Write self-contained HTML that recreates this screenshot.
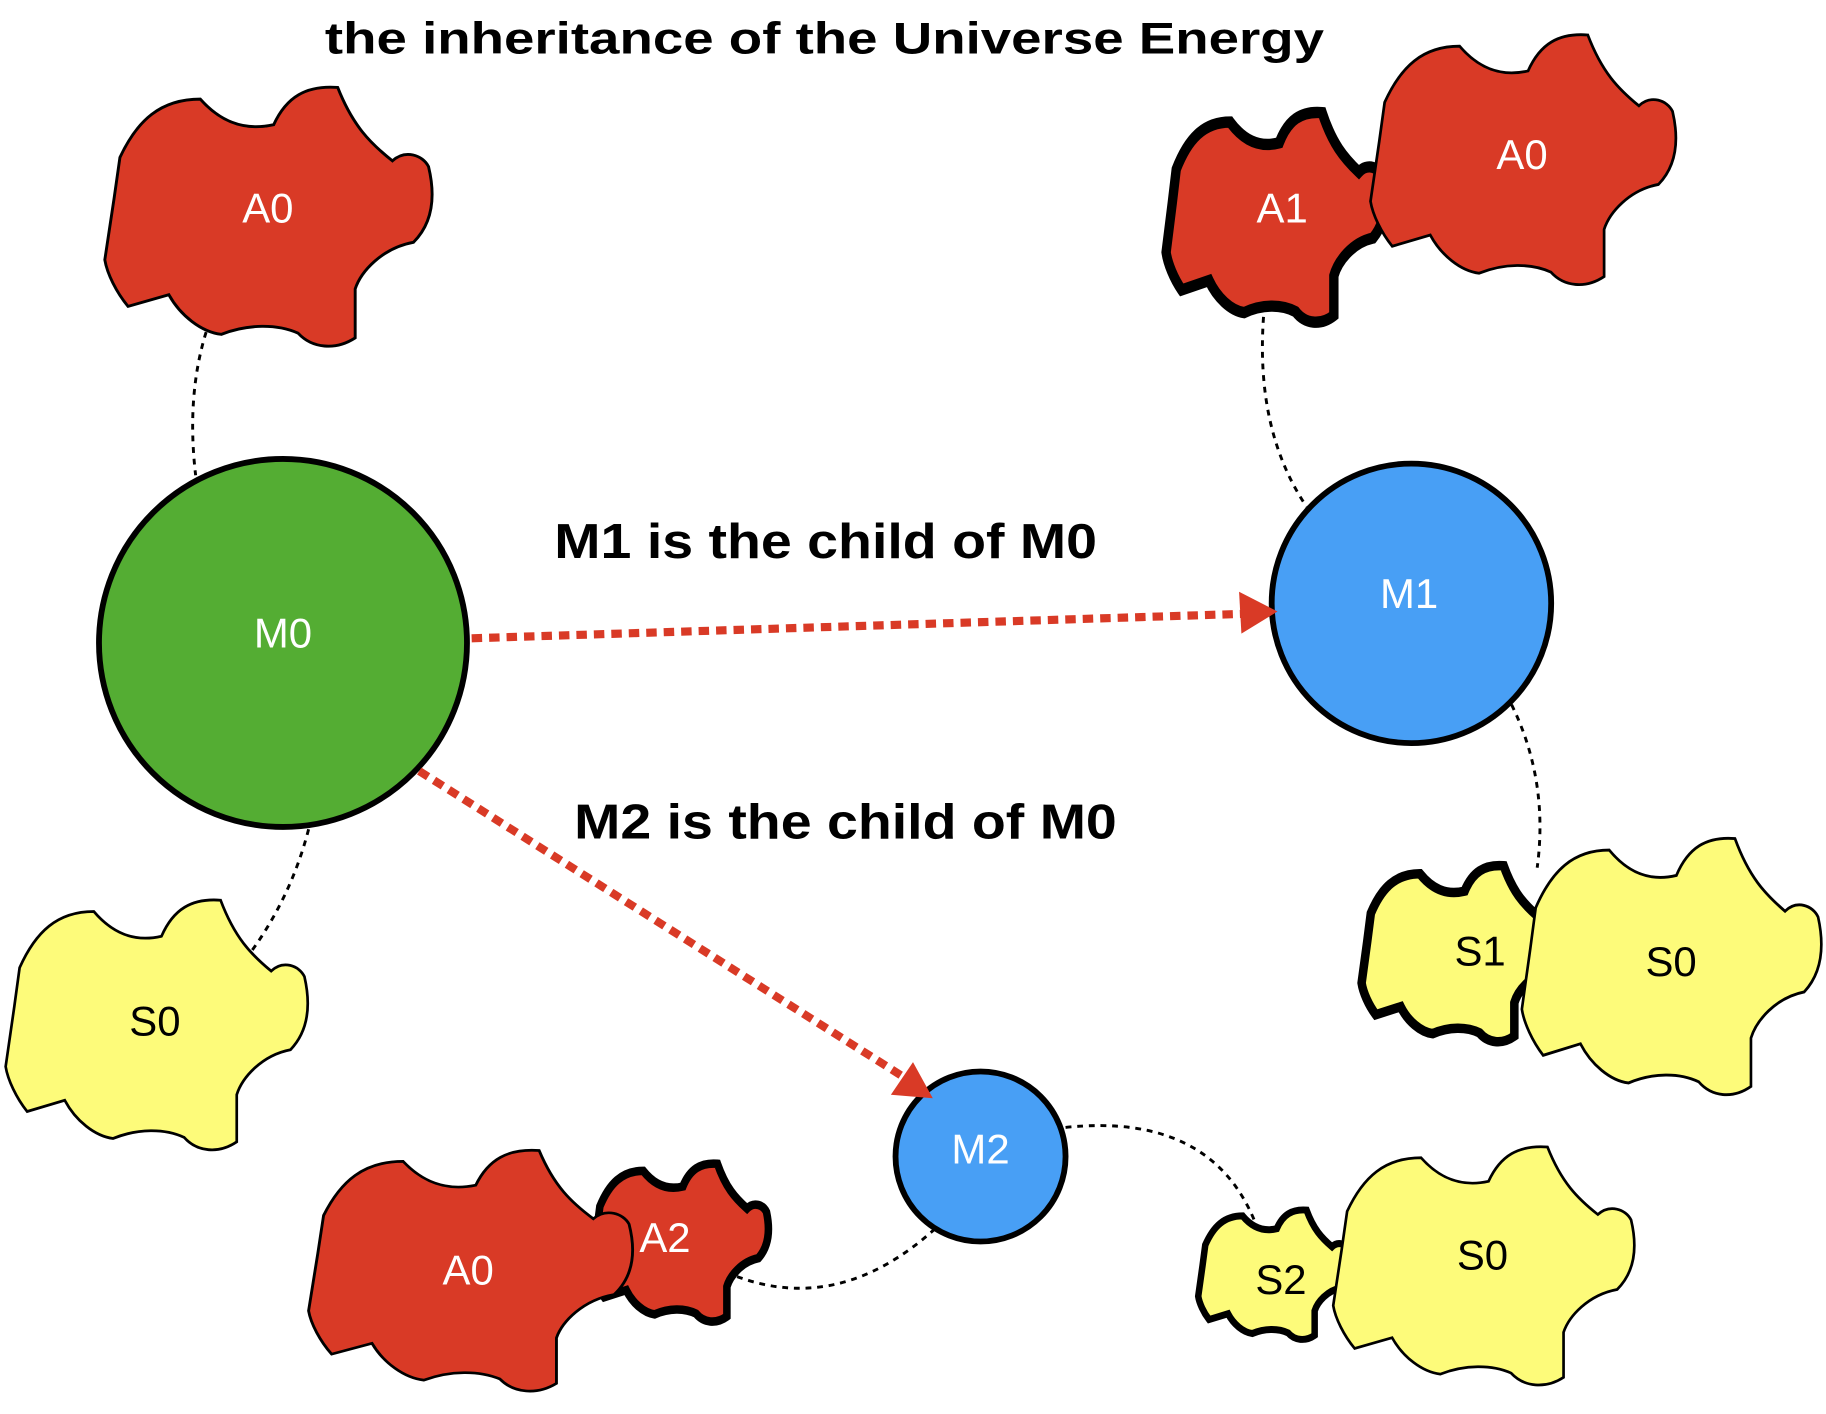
<!DOCTYPE html>
<html><head><meta charset="utf-8"><style>html,body{margin:0;padding:0;background:#fff}svg{display:block}</style></head>
<body>
<svg width="1826" height="1414" viewBox="0 0 1568 1214" xmlns="http://www.w3.org/2000/svg" font-family="Liberation Sans, sans-serif">
<defs>
<path id="b" d="M15,62 C30,30 50,12 84,12 C100,30 120,40 147,34 C158,10 175,0 202,2 C215,35 230,50 249,65 C260,55 275,60 280,70 C286,95 284,118 267,135 C240,140 222,160 217,175 L217,217 C200,228 180,226 168,213 C150,205 125,205 102,214 C85,212 67,198 57,180 L22,190 C12,178 4,162 2,150 L10,97 Z"/>
</defs>
<g fill="none" stroke="#000" stroke-width="2.5" stroke-dasharray="5 5">
<path d="M177,285 Q160,340 168,408"/>
<path d="M265,712 Q250,770 215,818"/>
<path d="M1085,272 Q1078,370 1122,435"/>
<path d="M1298,605 Q1330,670 1320,745"/>
<path d="M915,968 Q1040,955 1078,1050"/>
<path d="M803,1055 Q720,1130 630,1095"/>
</g>
<g stroke="#000">
<use href="#b" transform="translate(88,73)" fill="#d93a26" stroke-width="2.5" vector-effect="non-scaling-stroke"/>
<use href="#b" transform="translate(3,771) scale(0.923,0.965)" fill="#fdfb7a" stroke-width="2.5" vector-effect="non-scaling-stroke"/>
<use href="#b" transform="translate(1000,95) scale(0.67,0.81)" fill="#d93a26" stroke-width="12" vector-effect="non-scaling-stroke"/>
<use href="#b" transform="translate(1175,28) scale(0.933,0.965)" fill="#d93a26" stroke-width="2.5" vector-effect="non-scaling-stroke"/>
<use href="#b" transform="translate(1168,742) scale(0.61,0.68)" fill="#fdfb7a" stroke-width="12" vector-effect="non-scaling-stroke"/>
<use href="#b" transform="translate(1305,718) scale(0.915,0.99)" fill="#fdfb7a" stroke-width="2.5" vector-effect="non-scaling-stroke"/>
<use href="#b" transform="translate(507,998) scale(0.54,0.61)" fill="#d93a26" stroke-width="12" vector-effect="non-scaling-stroke"/>
<use href="#b" transform="translate(263,986) scale(0.99,0.93)" fill="#d93a26" stroke-width="2.5" vector-effect="non-scaling-stroke"/>
<use href="#b" transform="translate(1028,1038) scale(0.465,0.5)" fill="#fdfb7a" stroke-width="12" vector-effect="non-scaling-stroke"/>
<use href="#b" transform="translate(1143,983) scale(0.92,0.92)" fill="#fdfb7a" stroke-width="2.5" vector-effect="non-scaling-stroke"/>
<circle cx="243" cy="552" r="158" fill="#54ad33" stroke-width="5"/>
<circle cx="1212" cy="518" r="120" fill="#489ff5" stroke-width="5"/>
<circle cx="842" cy="993" r="73" fill="#489ff5" stroke-width="5"/>
</g>
<g stroke="#d93a26" stroke-width="7" stroke-dasharray="9 6" fill="none">
<path d="M405,548 L1068,527"/>
<path d="M360,662 L778,926"/>
</g>
<g fill="#d93a26">
<polygon points="1097,525 1064,508 1066,544"/>
<polygon points="801,943 765,940 784,912"/>
</g>
<g font-size="36" text-anchor="middle">
<text x="230" y="191" fill="#fff">A0</text>
<text x="243" y="556" fill="#fff">M0</text>
<text x="133" y="889" fill="#000">S0</text>
<text x="1101" y="191" fill="#fff">A1</text>
<text x="1307" y="145" fill="#fff">A0</text>
<text x="1210" y="522" fill="#fff">M1</text>
<text x="1271" y="829" fill="#000">S1</text>
<text x="1435" y="838" fill="#000">S0</text>
<text x="842" y="999" fill="#fff">M2</text>
<text x="402" y="1103" fill="#fff">A0</text>
<text x="571" y="1075" fill="#fff">A2</text>
<text x="1100" y="1111" fill="#000">S2</text>
<text x="1273" y="1090" fill="#000">S0</text>
</g>
<g font-weight="bold" fill="#000">
<text x="279" y="46" font-size="38" textLength="858" lengthAdjust="spacingAndGlyphs">the inheritance of the Universe Energy</text>
<text x="476" y="479" font-size="42" textLength="466" lengthAdjust="spacingAndGlyphs">M1 is the child of M0</text>
<text x="493" y="720" font-size="42" textLength="466" lengthAdjust="spacingAndGlyphs">M2 is the child of M0</text>
</g>
</svg>
</body></html>
